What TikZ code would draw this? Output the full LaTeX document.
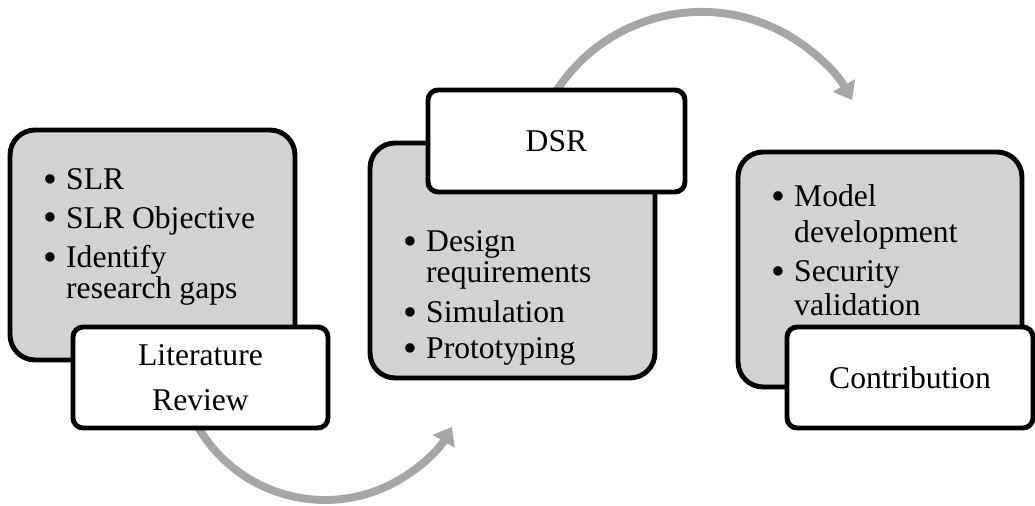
\documentclass[tikz,border=0pt]{standalone}
\usepackage{fontspec}
\setmainfont{Liberation Serif}
\usetikzlibrary{arrows.meta}
\definecolor{panelgray}{RGB}{210,210,210}
\definecolor{arcgray}{RGB}{166,166,166}
\newcommand\labelfont{\fontsize{18pt}{25.5pt}\selectfont}
\newcommand\listfont{\fontsize{18pt}{17.6pt}\selectfont}
\newcommand\pitem{\makebox[13pt][l]{\smash{\raisebox{-1.4pt}{\scalebox{1.25}{\textbullet}}}}}
\begin{document}
\begin{tikzpicture}[x=0.02cm,y=0.02cm,
  panel/.style={draw=black, line width=2.8pt, fill=panelgray, rounded corners=0.5cm},
  tag/.style={draw=black, line width=2.8pt, fill=white, rounded corners=0.2cm,
    align=center, font=\labelfont, inner sep=0pt},
  flow/.style={draw=arcgray, line width=4.5pt, -{Triangle[length=9.5pt,width=14pt]}},
  items/.style={anchor=base west, inner sep=0pt, font=\listfont}]
\useasboundingbox (0,0) rectangle (1035,506);

% curved arrows between the stages (drawn first, so the boxes cover their tails)
\coordinate (c1) at (325,153);
\draw[flow] (c1) ++(208:2.94cm) arc[start angle=208, end angle=329.8, radius=2.94cm];
\coordinate (c2) at (701.5,321.4);
\draw[flow] (c2) ++(150:3.454cm) arc[start angle=150, end angle=29.3, radius=3.454cm];

% stage 1
\node[panel, minimum width=5.7cm, minimum height=4.6cm] (p1) at (152.5,261) {};
\node[items] (l1) at (43,316) {\begin{tabular}[t]{@{}l@{}l@{}}
  \pitem & SLR\\[4pt]
  \pitem & SLR Objective\\[4.5pt]
  \pitem & Identify\\
         & research gaps
\end{tabular}};
\node[tag, minimum width=5.1cm, minimum height=2.02cm] (t1) at (200.5,128.5) {Literature\\Review};

% stage 2
\node[panel, minimum width=5.7cm, minimum height=4.7cm] (p2) at (512.5,245.5) {};
\node[items] (l2) at (403,254) {\begin{tabular}[t]{@{}l@{}l@{}}
  \pitem & Design\\
         & requirements\\[5pt]
  \pitem & Simulation\\[2.8pt]
  \pitem & Prototyping
\end{tabular}};
\node[tag, minimum width=5.14cm, minimum height=2.04cm] (t2) at (556.5,365) {DSR};

% stage 3
\node[panel, minimum width=5.68cm, minimum height=4.7cm] (p3) at (880,236.5) {};
\node[items] (l3) at (771,299) {\begin{tabular}[t]{@{}l@{}l@{}}
  \pitem & Model\\[2.3pt]
         & development\\[5pt]
  \pitem & Security\\[1.1pt]
         & validation
\end{tabular}};
\node[tag, minimum width=4.92cm, minimum height=2.02cm] (t3) at (910,128.5) {Contribution};
\end{tikzpicture}
\end{document}
